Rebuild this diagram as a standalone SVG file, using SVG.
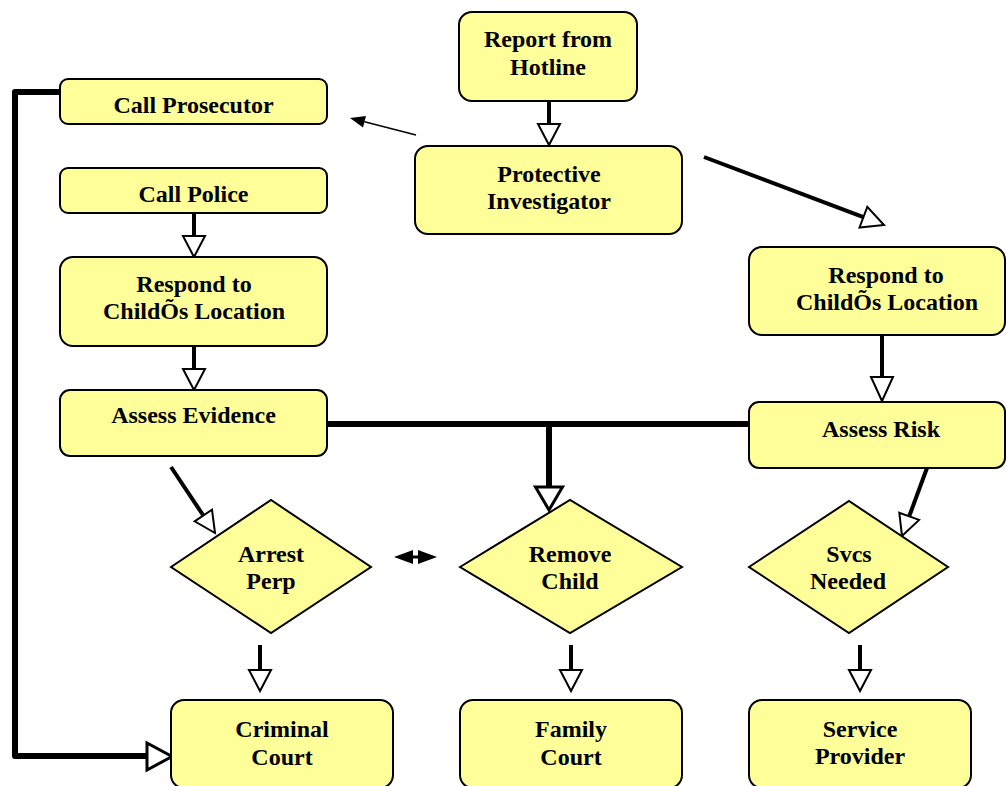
<svg xmlns="http://www.w3.org/2000/svg" width="1006" height="786" viewBox="0 0 1006 786">
<style>
.box{fill:#FFFF99;stroke:#000;stroke-width:2}
text{font-family:'Liberation Serif',Tinos,'Times New Roman','DejaVu Serif',serif;font-weight:700;font-size:24px;fill:#000;text-anchor:middle}
.ln{stroke:#000;stroke-width:4;fill:none}
.thk{stroke:#000;stroke-width:6;fill:none;stroke-linejoin:round}
.hd{fill:#fff;stroke:#000;stroke-width:2;stroke-linejoin:miter}
.hdb{fill:#fff;stroke:#000;stroke-width:3;stroke-linejoin:miter}
.fl{fill:#000;stroke:none}
</style>
<rect width="1006" height="786" fill="#fff"/>
<g id="connectors">
  <line class="ln" x1="549" y1="101" x2="549" y2="124"/>
  <polygon class="hd" points="538,124 560,124 549,145"/>
  <line class="ln" x1="194" y1="213" x2="194" y2="236"/>
  <polygon class="hd" points="183,236 205,236 194,257"/>
  <line class="ln" x1="194" y1="346" x2="194" y2="369"/>
  <polygon class="hd" points="183,369 205,369 194,390"/>
  <line class="ln" x1="882" y1="335" x2="882" y2="377"/>
  <polygon class="hd" points="871,377 893,377 882,401"/>
  <line class="ln" x1="704" y1="157" x2="863.4" y2="217.2"/>
  <polygon class="hd" points="859.5,227.5 867.3,206.9 884,225"/>
  <line stroke="#000" stroke-width="1.5" x1="416" y1="135" x2="364.5" y2="121.7"/>
  <polygon class="fl" points="350,118 366,115.9 363,127.5"/>
  <line class="thk" x1="327" y1="424" x2="749" y2="424"/>
  <line class="thk" x1="549" y1="424" x2="549" y2="487"/>
  <polygon class="hdb" points="535.5,487 562.5,487 549,510"/>
  <line class="ln" x1="171" y1="467" x2="203.3" y2="515.5"/>
  <polygon class="hd" points="194.6,521.3 212,509.7 215,533"/>
  <line class="ln" x1="927" y1="468" x2="909.2" y2="516.3"/>
  <polygon class="hd" points="919.1,519.9 899.3,512.7 902,536"/>
  <line class="ln" x1="260" y1="645" x2="260" y2="670"/>
  <polygon class="hd" points="249,670 271,670 260,691"/>
  <line class="ln" x1="571" y1="645" x2="571" y2="670"/>
  <polygon class="hd" points="560,670 582,670 571,691"/>
  <line class="ln" x1="860" y1="645" x2="860" y2="670"/>
  <polygon class="hd" points="849,670 871,670 860,691"/>
  <polyline class="thk" points="60,92 15,92 15,756 147,756"/>
  <polygon class="hdb" points="147,743 147,770 172,756.5"/>
  <line stroke="#000" stroke-width="3" x1="410" y1="557" x2="421" y2="557"/>
  <polygon class="fl" points="394,557 413,550 413,564"/>
  <polygon class="fl" points="437,557 418,550 418,564"/>
</g>
<g id="report">
  <rect class="box" x="459" y="12" width="178" height="89" rx="13"/>
  <text x="548" y="47">Report from</text>
  <text x="548" y="75">Hotline</text>
</g>
<g id="investigator">
  <rect class="box" x="415" y="146" width="267" height="88" rx="13"/>
  <text x="549" y="182">Protective</text>
  <text x="549" y="209">Investigator</text>
</g>
<g id="prosecutor">
  <rect class="box" x="60" y="79" width="267" height="45" rx="8"/>
  <text x="193.5" y="113">Call Prosecutor</text>
</g>
<g id="police">
  <rect class="box" x="60" y="168" width="267" height="45" rx="8"/>
  <text x="193.5" y="202">Call Police</text>
</g>
<g id="respond-left">
  <rect class="box" x="60" y="257" width="267" height="89" rx="13"/>
  <text x="194" y="292">Respond to</text>
  <text x="194" y="319">ChildÕs Location</text>
</g>
<g id="assess-evidence">
  <rect class="box" x="60" y="390" width="267" height="66" rx="10"/>
  <text x="193.5" y="423">Assess Evidence</text>
</g>
<g id="respond-right">
  <rect class="box" x="749" y="247" width="256" height="88" rx="13"/>
  <text x="886" y="283">Respond to</text>
  <text x="887" y="310">ChildÕs Location</text>
</g>
<g id="assess-risk">
  <rect class="box" x="749" y="402" width="256" height="66" rx="10"/>
  <text x="881" y="437">Assess Risk</text>
</g>
<g id="arrest">
  <polygon class="box" points="171,567 271,500 371,567 271,633"/>
  <text x="271" y="562">Arrest</text>
  <text x="271" y="589">Perp</text>
</g>
<g id="remove">
  <polygon class="box" points="460,567 570,500 682,567 570,633"/>
  <text x="570" y="562">Remove</text>
  <text x="570" y="589">Child</text>
</g>
<g id="svcs">
  <polygon class="box" points="749,567 849,501 948,567 849,633"/>
  <text x="849" y="562">Svcs</text>
  <text x="848" y="589">Needed</text>
</g>
<g id="criminal-court">
  <rect class="box" x="171" y="700" width="222" height="88" rx="13"/>
  <text x="282" y="737">Criminal</text>
  <text x="282" y="765">Court</text>
</g>
<g id="family-court">
  <rect class="box" x="460" y="700" width="222" height="88" rx="13"/>
  <text x="571" y="737">Family</text>
  <text x="571" y="765">Court</text>
</g>
<g id="service-provider">
  <rect class="box" x="749" y="700" width="222" height="88" rx="13"/>
  <text x="860" y="737">Service</text>
  <text x="860" y="764">Provider</text>
</g>
</svg>
